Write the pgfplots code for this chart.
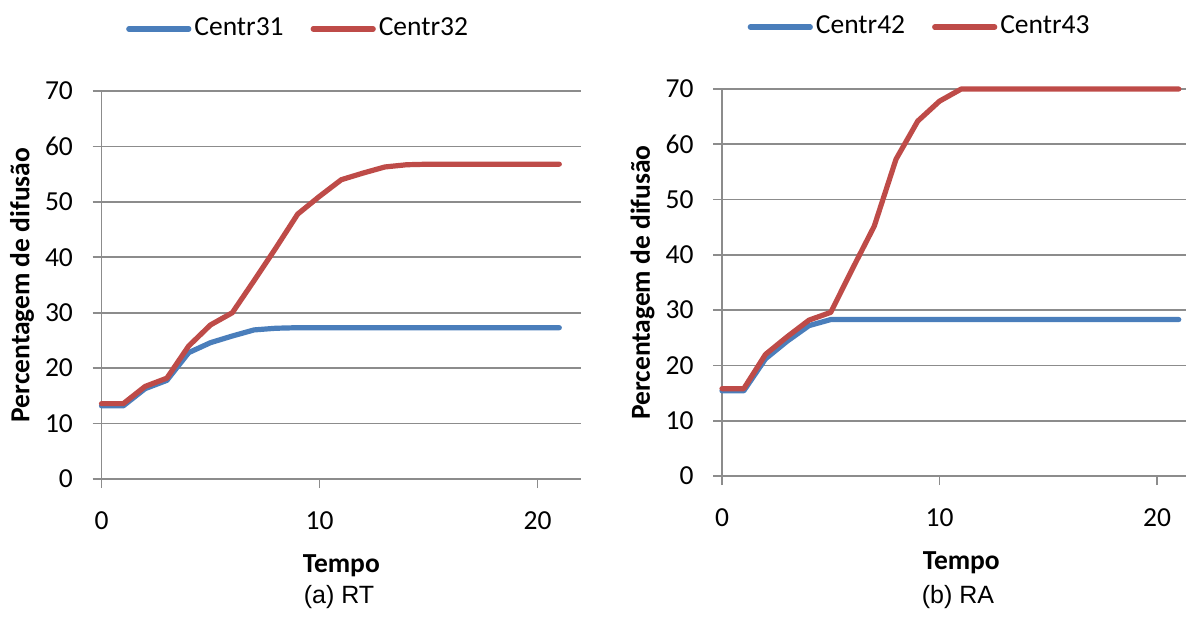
\documentclass[border=0pt]{standalone}
\usepackage{pgfplots}
\pgfplotsset{compat=1.18}
\usepackage{fontspec}
\setmainfont{Carlito}
\newfontfamily\arial{Liberation Sans}
\definecolor{xblue}{RGB}{74,126,187}
\definecolor{xred}{RGB}{190,75,72}
\definecolor{xgrid}{RGB}{140,140,140}
\pgfplotsset{
  mystyle/.style={
    scale only axis,
    height=194pt,
    xmin=0, xmax=22, ymin=0, ymax=70,
    axis lines*=left,
    axis line style={draw=xgrid, line width=0.9pt, -},
    ymajorgrids,
    grid style={draw=xgrid, line width=0.9pt},
    tick style={draw=xgrid, line width=0.9pt},
    tick align=outside,
    major tick length=4.5pt,
    xtick={0,10,20},
    ytick={0,10,...,70},
    /pgf/number format/assume math mode=true,
    xticklabel style={anchor=north, yshift=-7pt},
    yticklabel style={anchor=east, xshift=-5pt},
    every axis x label/.style={at={(rel axis cs:0.5,0)}, yshift=-43.5pt, anchor=center, font=\bfseries},
    every axis y label/.style={at={(rel axis cs:0,0.5)}, xshift=-39.75pt, rotate=90, anchor=center, font=\bfseries},
    xlabel={Tempo},
    ylabel={Percentagem de difusão},
    clip=false,
    legend columns=2,
    legend style={draw=none, fill=none, inner sep=0pt, anchor=center,
      nodes={inner sep=1.5pt},
      /tikz/every even column/.append style={column sep=12pt}},
    legend image code/.code={\draw[##1] (0pt,0pt) -- (30pt,0pt);},
  },
  myline/.style={line width=2.6pt, line join=round, line cap=round},
}
\begin{document}
\fontsize{13.75pt}{16pt}\selectfont
\begin{tikzpicture}
\path[use as bounding box] (0,0) rectangle (593pt,308.5pt);
\clip (0,0) rectangle (593pt,308.5pt);
\begin{axis}[mystyle, at={(50.75pt,69pt)}, anchor=south west, width=239.8pt,
  legend style={at={(rel axis cs:0.411,1.160)}}]
\addplot[myline, xblue] coordinates {
(0,13.2) (1,13.2) (2,16.3) (3,17.8) (4,22.8) (5,24.6) (6,25.8) (7,26.9) (8,27.2) (9,27.3)
(10,27.3) (11,27.3) (12,27.3) (13,27.3) (14,27.3) (15,27.3) (16,27.3) (17,27.3) (18,27.3) (19,27.3) (20,27.3) (21,27.3)};
\addlegendentry{Centr31}
\addplot[myline, xred] coordinates {
(0,13.6) (1,13.6) (2,16.7) (3,18.2) (4,24.0) (5,27.8) (6,30.0) (7,35.8) (8,41.7) (9,47.8)
(10,51.0) (11,54.0) (12,55.2) (13,56.3) (14,56.7) (15,56.8) (16,56.8) (17,56.8) (18,56.8) (19,56.8) (20,56.8) (21,56.8)};
\addlegendentry{Centr32}
\end{axis}
\begin{axis}[mystyle, at={(361pt,70.5pt)}, anchor=south west, width=239.25pt, height=193.5pt,
  legend style={at={(rel axis cs:0.414,1.160)}}]
\addplot[myline, xblue] coordinates {
(0,15.4) (1,15.4) (2,21.2) (3,24.4) (4,27.2) (5,28.3) (6,28.3) (7,28.3) (8,28.3) (9,28.3)
(10,28.3) (11,28.3) (12,28.3) (13,28.3) (14,28.3) (15,28.3) (16,28.3) (17,28.3) (18,28.3) (19,28.3) (20,28.3) (21,28.3)};
\addlegendentry{Centr42}
\addplot[myline, xred] coordinates {
(0,15.8) (1,15.8) (2,22.0) (3,25.2) (4,28.2) (5,29.6) (6,37.5) (7,45.2) (8,57.3) (9,64.2)
(10,67.8) (11,70) (12,70) (13,70) (14,70) (15,70) (16,70) (17,70) (18,70) (19,70) (20,70) (21,70)};
\addlegendentry{Centr43}
\end{axis}
\node[font=\arial\fontsize{12.5pt}{14pt}\selectfont, anchor=center] at (169.5pt,10pt) {(a) RT};
\node[font=\arial\fontsize{12.5pt}{14pt}\selectfont, anchor=center] at (479pt,10pt) {(b) RA};
\end{tikzpicture}
\end{document}
